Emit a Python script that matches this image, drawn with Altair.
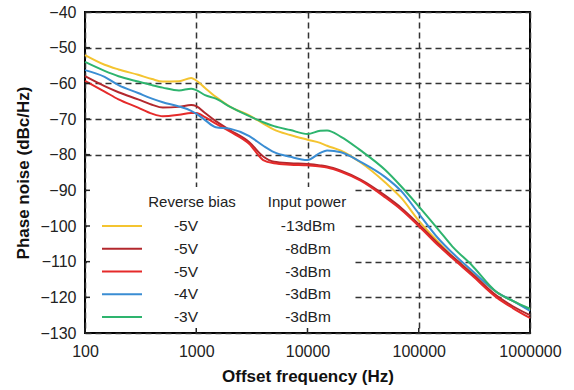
import altair as alt
import pandas as pd

# ---- data -------------------------------------------------------------
freq = [100, 150, 200, 300, 400, 500, 700, 900, 1000, 1200, 1500, 2000, 3000, 4000,
        5000, 7000, 10000, 13000, 15000, 20000, 30000, 50000, 70000, 100000,
        150000, 200000, 300000, 500000, 700000, 1000000]

pn_yellow = [-52.1, -54.8, -56.1, -57.6, -58.8, -59.5, -59.4, -58.5, -59.2, -61.3, -63.8,
             -66.5, -69.0, -71.3, -73.0, -74.5, -75.8, -76.7, -77.5, -78.9, -82.2, -87.8,
             -92.2, -98.5, -104.5, -108.5, -113.0, -118.5, -121.0, -123.5]
pn_darkred = [-58.0, -60.8, -62.5, -64.5, -66.0, -66.8, -66.6, -66.1, -66.4, -68.3, -70.6,
              -73.1, -76.5, -80.5, -82.0, -82.4, -82.6, -83.0, -83.3, -84.5, -87.0, -91.5,
              -95.0, -99.5, -105.0, -108.5, -113.3, -119.5, -122.5, -125.0]
pn_red = [-59.3, -62.3, -64.5, -66.8, -68.5, -69.2, -68.8, -68.3, -68.3, -69.5, -71.3,
          -73.5, -77.0, -81.5, -82.4, -82.8, -83.0, -83.3, -83.6, -84.8, -87.3, -92.0,
          -95.5, -100.0, -105.5, -109.0, -113.8, -120.0, -123.0, -125.8]
pn_blue = [-56.3, -58.2, -60.5, -62.7, -64.3, -65.3, -66.5, -67.7, -68.5, -70.3, -72.3,
           -72.7, -74.8, -77.5, -79.3, -80.6, -81.5, -79.5, -78.8, -79.3, -82.0, -86.3,
           -90.3, -96.5, -103.5, -107.5, -112.5, -118.5, -121.0, -123.8]
pn_green = [-54.0, -56.5, -58.0, -59.5, -60.5, -61.2, -62.0, -61.5, -61.9, -63.3, -64.3,
            -66.5, -69.2, -70.9, -72.0, -73.1, -74.2, -73.3, -73.2, -75.0, -78.8, -84.3,
            -89.0, -94.5, -101.0, -105.7, -111.0, -118.5, -121.0, -123.2]

series = ["y", "dr", "r", "b", "g"]
series_values = [pn_yellow, pn_darkred, pn_red, pn_blue, pn_green]
bias = ["-5V", "-5V", "-5V", "-4V", "-3V"]
power = ["-13dBm", "-8dBm", "-3dBm", "-3dBm", "-3dBm"]
colors = ["#F4C430", "#B3282D", "#E52A2A", "#3A8DD3", "#2EB46E"]

x_ticks = [100, 1000, 10000, 100000, 1000000]
y_ticks = list(range(-130, -39, 10))

FONT = "Liberation Sans"

rows = []
for s, vals in zip(series, series_values):
    for f, v in zip(freq, vals):
        rows.append({"series": s, "freq": f, "pn": v})
df = pd.DataFrame(rows)

leg = pd.DataFrame({"series": series, "bias": bias, "power": power,
                    "row": list(range(len(series)))})

color_scale = alt.Scale(domain=series, range=colors)
x_scale = alt.Scale(type="log", domain=[100, 1000000])
y_scale = alt.Scale(domain=[-130, -40], nice=False, zero=False)

lines = alt.Chart(df).mark_line(strokeWidth=2, interpolate="monotone").encode(
    x=alt.X("freq:Q", scale=x_scale,
            axis=alt.Axis(values=x_ticks, format="d", title="Offset frequency (Hz)",
                          labelFontSize=16, titleFontSize=17, titleFontWeight="bold",
                          labelPadding=10, titlePadding=9, labelFlush=False, grid=True)),
    y=alt.Y("pn:Q", scale=y_scale,
            axis=alt.Axis(values=y_ticks, title="Phase noise (dBc/Hz)",
                          labelFontSize=16, titleFontSize=17, titleFontWeight="bold",
                          labelPadding=9, titlePadding=7, grid=True)),
    color=alt.Color("series:N", scale=color_scale, legend=None),
    detail="series:N",
)

bg = alt.Chart(pd.DataFrame({"a": [0]})).mark_rect(color="white").encode(
    x=alt.value(2), x2=alt.value(267), y=alt.value(175), y2=alt.value(319)
)

# small inward tick marks on the bottom and left frame
xt_df = pd.DataFrame({"freq": x_ticks})
yt_df = pd.DataFrame({"pn": y_ticks})
xticks_m = alt.Chart(xt_df).mark_rule(color="#222", strokeWidth=1.5).encode(
    x=alt.X("freq:Q", scale=x_scale), y=alt.value(321), y2=alt.value(316))
yticks_m = alt.Chart(yt_df).mark_rule(color="#222", strokeWidth=1.5).encode(
    y=alt.Y("pn:Q", scale=y_scale, axis=None), x=alt.value(0), x2=alt.value(5))

row_y = alt.Y("row:Q", scale=alt.Scale(domain=[0, 4], range=[214, 305]), axis=None)

swatch = alt.Chart(leg).mark_rule(strokeWidth=2).encode(
    x=alt.value(17), x2=alt.value(57), y=row_y,
    color=alt.Color("series:N", scale=color_scale, legend=None),
)
bias_t = alt.Chart(leg).mark_text(align="center", baseline="middle", fontSize=15.5,
                                  font=FONT, color="#222").encode(
    x=alt.value(101), y=row_y, text="bias:N")
power_t = alt.Chart(leg).mark_text(align="center", baseline="middle", fontSize=15.5,
                                   font=FONT, color="#222").encode(
    x=alt.value(223), y=row_y, text="power:N")
hdr1 = alt.Chart(pd.DataFrame({"t": ["Reverse bias"]})).mark_text(
    align="center", baseline="middle", fontSize=15, font=FONT, color="#222").encode(
    x=alt.value(107), y=alt.value(190), text="t:N")
hdr2 = alt.Chart(pd.DataFrame({"t": ["Input power"]})).mark_text(
    align="center", baseline="middle", fontSize=15, font=FONT, color="#222").encode(
    x=alt.value(222), y=alt.value(190), text="t:N")

chart = alt.layer(bg, lines, xticks_m, yticks_m, swatch, bias_t, power_t, hdr1, hdr2).resolve_scale(
    y="independent"
).properties(
    width=445, height=321,
    autosize=alt.AutoSizeParams(type="none"),
    padding={"left": 85, "top": 12, "right": 44, "bottom": 57},
    background="white",
).configure_view(
    stroke="black", strokeWidth=2
).configure_axis(
    domain=False, ticks=False, grid=True,
    gridColor="#333333", gridDash=[6, 4], gridWidth=1.5, gridOpacity=1,
    labelFont=FONT, titleFont=FONT, labelColor="#222", titleColor="#111",
)

chart.save("out.html", embed_options={"renderer": "svg", "actions": False})
